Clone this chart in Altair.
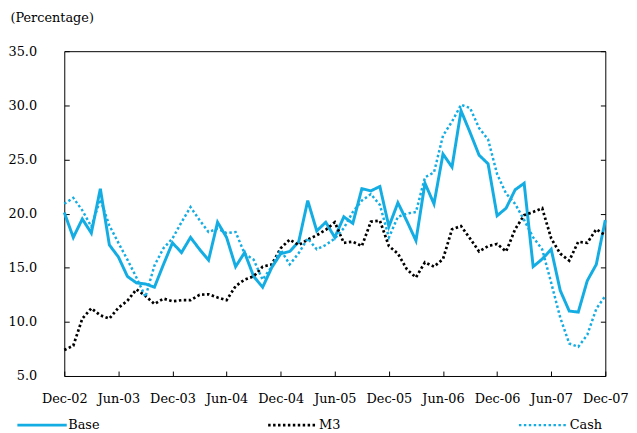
import altair as alt
import pandas as pd

# ---- data (monthly, Dec-02 .. Dec-07) ----
series_names = ["Base", "M3", "Cash"]

base = [20.1, 17.8, 19.5, 18.2, 22.3, 17.1, 16.0, 14.2, 13.6, 13.5,
        13.2, 15.3, 17.3, 16.4, 17.8, 16.7, 15.7, 19.2, 17.8, 15.1,
        16.4, 14.2, 13.2, 15.0, 16.3, 16.5, 17.4, 21.2, 18.4, 19.2,
        17.8, 19.7, 19.1, 22.3, 22.1, 22.5, 18.8, 21.0, 19.3, 17.5,
        22.8, 20.9, 25.5, 24.3, 29.5, 27.5, 25.4, 24.6, 19.8, 20.5,
        22.2, 22.8, 15.1, 15.8, 16.7, 12.9, 11.0, 10.9, 13.8, 15.3, 19.4]

m3 = [7.4, 7.8, 10.3, 11.25, 10.6, 10.3, 11.3, 11.95, 13.0, 12.4,
      11.65, 12.15, 11.9, 12.0, 12.0, 12.5, 12.55, 12.25, 12.0, 13.3,
      13.9, 14.2, 15.1, 15.3, 16.8, 17.6, 17.1, 17.6, 18.0, 18.5,
      19.2, 17.3, 17.4, 17.0, 19.25, 19.35, 17.0, 16.3, 14.85, 14.1,
      15.5, 15.1, 15.8, 18.55, 18.85, 17.7, 16.5, 17.0, 17.2, 16.5,
      18.55, 19.85, 20.15, 20.5, 17.7, 16.3, 15.65, 17.4, 17.3, 18.55, 18.0]

cash = [20.9, 21.45, 20.3, 18.8, 21.3, 18.9, 17.3, 15.75, 14.1, 12.3,
        15.2, 16.8, 17.7, 19.2, 20.6, 19.4, 18.3, 18.6, 18.2, 18.3,
        16.3, 15.75, 13.9, 15.1, 16.65, 15.3, 16.35, 17.7, 16.7, 17.1,
        17.7, 18.65, 20.15, 21.2, 21.8, 20.8, 17.8, 19.7, 20.0, 20.15,
        23.35, 23.8, 27.2, 28.5, 30.05, 29.75, 27.9, 26.85, 23.65, 21.85,
        20.9, 19.4, 17.8, 16.7, 13.6, 10.4, 8.0, 7.7, 8.8, 11.2, 12.4]

tick_labels = ["Dec-02", "Jun-03", "Dec-03", "Jun-04", "Dec-04", "Jun-05",
               "Dec-05", "Jun-06", "Dec-06", "Jun-07", "Dec-07"]
tick_months = [0, 6, 12, 18, 24, 30, 36, 42, 48, 54, 60]
y_ticks = [5, 10, 15, 20, 25, 30, 35]

rows = []
for name, vals in zip(series_names, [base, m3, cash]):
    for i, v in enumerate(vals):
        rows.append({"month": i, "series": name, "value": v})
df = pd.DataFrame(rows)

FONT = "DejaVu Serif"
FS = 13
BLUE = "#14ade3"
label_expr = "[" + ",".join("'%s'" % s for s in tick_labels) + "][round(datum.value/6)]"

x_scale = alt.Scale(domain=[0, 60], nice=False, zero=False)
y_scale = alt.Scale(domain=[5, 35], nice=False, zero=False)

x_enc = alt.X("month:Q", scale=x_scale,
              axis=alt.Axis(values=tick_months, labelExpr=label_expr, offset=-5,
                            tickSize=5, domain=False, grid=False, labelPadding=17,
                            title=None, labelFlush=False, labelOverlap=False))

lines = alt.Chart(df).mark_line(strokeCap="butt", strokeJoin="miter").encode(
    x=x_enc,
    y=alt.Y("value:Q", scale=y_scale,
            axis=alt.Axis(values=y_ticks, format=".1f", offset=-5, tickSize=5,
                          domain=False, grid=False, labelPadding=28,
                          title="(Percentage)", titleAngle=0, titleX=-60, titleY=-34,
                          titleAlign="left", titleBaseline="middle",
                          titleFont=FONT, titleFontSize=FS, titleFontWeight="normal",
                          titleColor="black")),
    color=alt.Color("series:N",
                    scale=alt.Scale(domain=series_names, range=[BLUE, "#000000", BLUE]),
                    legend=alt.Legend(orient="none", legendX=-49, legendY=352,
                                      direction="horizontal", title=None,
                                      symbolType="stroke", symbolSize=2500,
                                      labelFont=FONT, labelFontSize=FS, labelColor="black",
                                      gridAlign="all", columnPadding=164, labelOffset=0)),
    strokeDash=alt.StrokeDash("series:N",
                              scale=alt.Scale(domain=series_names,
                                              range=[[1, 0], [2.5, 2.5], [2.5, 2.5]])),
    strokeWidth=alt.StrokeWidth("series:N",
                                scale=alt.Scale(domain=series_names, range=[3, 2.5, 2.5])),
)

right_axis = alt.Chart(df).mark_point(opacity=0).encode(
    x=x_enc,
    y=alt.Y("value:Q", scale=y_scale,
            axis=alt.Axis(orient="right", values=y_ticks, offset=-5, tickSize=5,
                          labels=False, domain=False, grid=False, title=None)),
)

chart = alt.layer(lines, right_axis).resolve_axis(y="independent").properties(
    width=548, height=329,
    autosize=alt.AutoSizeParams(type="none"),
    padding={"left": 57, "top": 41, "right": 24, "bottom": 55},
).configure_view(stroke="black", strokeWidth=1).configure_axis(
    labelFont=FONT, labelFontSize=FS, labelColor="black", tickColor="black", tickWidth=1
)

chart.save("out.html", embed_options={"renderer": "svg", "actions": False})
